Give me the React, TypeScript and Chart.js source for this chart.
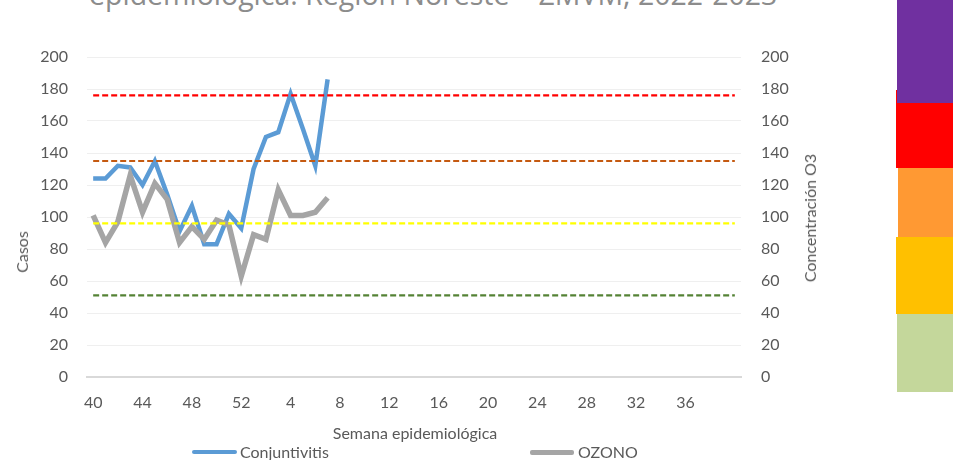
import React, { useEffect, useRef } from "react";
import { Chart, registerables } from "chart.js";

Chart.register(...registerables);

const weeks: string[] = [
  "40", "41", "42", "43", "44", "45", "46", "47", "48", "49", "50", "51", "52",
  "1", "2", "3", "4", "5", "6", "7", "8", "9", "10", "11", "12", "13", "14", "15",
  "16", "17", "18", "19", "20", "21", "22", "23", "24", "25", "26", "27", "28",
  "29", "30", "31", "32", "33", "34", "35", "36", "37", "38", "39", "40",
];

const conjuntivitis: number[] = [
  124, 124, 132, 131, 120, 135, 114, 91, 107, 83, 83, 102, 93, 130, 150, 153, 177, 155, 132, 186,
];

const ozono: number[] = [
  101, 84, 97, 126, 103, 121, 111, 84, 94, 86, 98, 95, 63, 89, 86, 117, 101, 101, 103, 112,
];

const thresholdValues: number[] = [176, 135, 96, 51];
const thresholdColors: string[] = ["#FF0000", "#C55A11", "#FFFF00", "#548235"];

const yTicks = { min: 0, max: 200, step: 20 };

const scaleBands = [
  { color: "#FF0000", top: 90, height: 78, left: 896 },
  { color: "#7030A0", top: 0, height: 103, left: 897 },
  { color: "#FF9933", top: 168, height: 72, left: 898 },
  { color: "#FFC000", top: 237, height: 77, left: 896 },
  { color: "#C4D79B", top: 314, height: 78, left: 897 },
];

const FONT = "Lato";
const TEXT = "#595959";

export default function App() {
  const ref = useRef<HTMLCanvasElement | null>(null);

  useEffect(() => {
    if (!ref.current) return;
    const thresholdSets = thresholdValues.map((v, k) => ({
      label: "umbral" + k,
      data: weeks.map(() => v),
      borderColor: thresholdColors[k],
      borderWidth: 2.2,
      borderDash: [6, 3],
      pointRadius: 0,
      tension: 0,
      yAxisID: "y1",
      order: 0,
    }));

    const chart = new Chart(ref.current, {
      type: "line",
      data: {
        labels: weeks,
        datasets: [
          ...thresholdSets,
          {
            label: "OZONO",
            data: ozono,
            borderColor: "#A5A5A5",
            borderWidth: 5.5,
            pointRadius: 0,
            tension: 0,
            yAxisID: "y1",
            order: 1,
          },
          {
            label: "Conjuntivitis",
            data: conjuntivitis,
            borderColor: "#5B9BD5",
            borderWidth: 4.5,
            pointRadius: 0,
            tension: 0,
            yAxisID: "y",
            order: 2,
          },
        ] as any,
      },
      options: {
        animation: false,
        responsive: false,
        maintainAspectRatio: false,
        layout: { padding: { top: 57, left: 0, right: 0, bottom: 0 } },
        plugins: {
          legend: { display: false },
          tooltip: { enabled: false },
          title: { display: false },
        },
        scales: {
          x: {
            type: "category",
            offset: true,
            grid: { display: false, drawTicks: false },
            border: { display: true, color: "#D9D9D9", width: 2 },
            ticks: {
              autoSkip: false,
              maxRotation: 0,
              minRotation: 0,
              padding: 16,
              color: TEXT,
              font: { family: FONT, size: 16 },
              callback: (_v: any, idx: number) =>
                idx % 4 === 0 && idx < weeks.length - 1 ? weeks[idx] : "",
            },
            afterFit: (s: any) => {
              s.height = 83;
            },
          },
          y: {
            position: "left",
            min: yTicks.min,
            max: yTicks.max,
            ticks: {
              stepSize: yTicks.step,
              padding: 19,
              color: TEXT,
              font: { family: FONT, size: 16 },
            },
            grid: {
              drawTicks: false,
              color: (c: any) => (c.tick && c.tick.value === 0 ? "rgba(0,0,0,0)" : "#EFEFEF"),
              lineWidth: 1,
            },
            border: { display: false },
            afterFit: (s: any) => {
              s.width = 87;
            },
          },
          y1: {
            position: "right",
            min: yTicks.min,
            max: yTicks.max,
            ticks: {
              stepSize: yTicks.step,
              padding: 20,
              color: TEXT,
              font: { family: FONT, size: 16 },
            },
            grid: { display: false, drawTicks: false },
            border: { display: false },
            afterFit: (s: any) => {
              s.width = 212;
            },
          },
        },
      } as any,
    });
    return () => chart.destroy();
  }, []);

  const textStyle: React.CSSProperties = {
    position: "absolute",
    fontFamily: FONT,
    fontSize: 16,
    color: TEXT,
    whiteSpace: "nowrap",
    lineHeight: "18px",
  };

  return (
    <div
      style={{
        position: "fixed",
        left: 0,
        top: 0,
        width: 953,
        height: 460,
        overflow: "hidden",
        background: "#ffffff",
      }}
    >
      <div
        style={{
          position: "absolute",
          left: 89,
          top: -20,
          fontFamily: "Open Sans",
          fontSize: 28.5,
          lineHeight: "28.5px",
          color: "#8C8C8C",
          whiteSpace: "nowrap",
        }}
      >
        epidemiológica. Región Noreste – ZMVM, 2022-2023
      </div>
      <canvas ref={ref} width={953} height={460} style={{ position: "absolute", left: 0, top: 0 }} />
      {scaleBands.map((b, i) => (
        <div
          key={i}
          style={{
            position: "absolute",
            left: b.left,
            top: b.top,
            width: 953 - b.left,
            height: b.height,
            background: b.color,
          }}
        />
      ))}
      <div
        style={{
          ...textStyle,
          left: 22,
          top: 252,
          transform: "translate(-50%, -50%) rotate(-90deg)",
        }}
      >
        Casos
      </div>
      <div
        style={{
          ...textStyle,
          left: 810,
          top: 218,
          transform: "translate(-50%, -50%) rotate(-90deg)",
        }}
      >
        Concentración O3
      </div>
      <div style={{ ...textStyle, left: 415, top: 433, transform: "translate(-50%, -50%)" }}>
        Semana epidemiológica
      </div>
      <div style={{ position: "absolute", left: 192, top: 450, width: 45, height: 4, background: "#5B9BD5", borderRadius: 2 }} />
      <div style={{ ...textStyle, left: 240, top: 443 }}>Conjuntivitis</div>
      <div style={{ position: "absolute", left: 530, top: 450, width: 44, height: 5, background: "#A5A5A5", borderRadius: 2 }} />
      <div style={{ ...textStyle, left: 578, top: 443 }}>OZONO</div>
    </div>
  );
}
